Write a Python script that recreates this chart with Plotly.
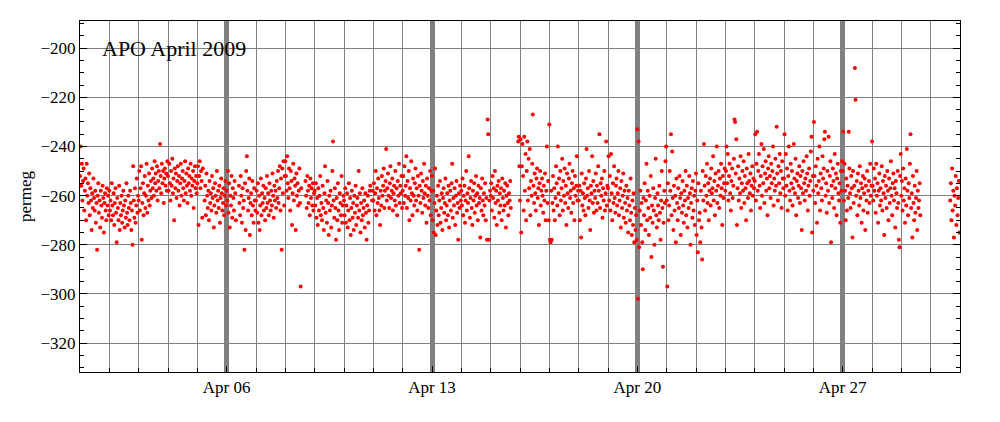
import pandas as pd
import plotly.graph_objects as go

# Atmospheric O2 record, APO (permeg), half-hourly samples per day of April 2009
days = pd.date_range("2009-04-01", "2009-04-30", freq="D")

apr01 = [-252, -240, -256, -247, -262, -254, -249, -266, -258, -253, -270, -247,
         -260, -255, -263, -251, -268, -257, -262, -274, -259, -265, -253, -261,
         -266, -258, -271, -263, -282, -260, -255, -267, -262, -273, -258, -264,
         -269, -256, -261, -275, -263, -259, -266, -270, -257, -264, -260, -268]
apr02 = [-258, -266, -262, -270, -255, -264, -268, -259, -272, -263, -257, -267,
         -279, -261, -265, -270, -256, -274, -263, -268, -260, -271, -266, -258,
         -264, -273, -262, -269, -255, -267, -272, -260, -265, -270, -258, -263,
         -274, -266, -280, -248, -262, -269, -257, -271, -264, -253, -267, -260]
apr03 = [-262, -250, -266, -257, -248, -278, -263, -255, -268, -259, -252, -265,
         -260, -247, -267, -256, -262, -251, -264, -258, -254, -261, -249, -257,
         -253, -260, -246, -255, -251, -258, -248, -262, -254, -250, -257, -239,
         -252, -259, -247, -255, -250, -263, -253, -249, -256, -251, -258, -246]
apr04 = [-252, -258, -247, -255, -262, -250, -256, -245, -259, -253, -270, -249,
         -257, -251, -261, -254, -248, -258, -252, -264, -255, -247, -260, -253,
         -250, -257, -262, -254, -246, -259, -251, -256, -263, -249, -255, -252,
         -258, -247, -260, -253, -256, -250, -265, -254, -248, -257, -252, -259]
apr05 = [-255, -248, -272, -252, -246, -257, -250, -254, -269, -249, None, None,
         -262, -256, -268, -251, -260, -265, -258, -270, -254, -263, -259, -266,
         -252, -261, -257, -273, -264, -255, -260, -267, -250, -262, -258, -265,
         -256, -271, -261, -253, -259, -266, -263, -257, -268, -260, -254, -264]
apr06 = [-258, -262, -250, -267, -255, -273, -260, -264, -252, -269, -257, -261,
         -266, -254, -259, -270, None, None, None, None, -256, -263, -268, -252,
         -260, -271, -257, -265, -262, -282, -255, -274, -250, -244, -258, -266,
         -261, -253, -276, -263, -259, -268, -254, -264, -271, -257, -262, -266]
apr07 = [-262, -258, -267, -255, -271, -260, -274, -264, -253, -268, -259, -263,
         -256, -266, -261, -270, -257, -265, -252, -263, -259, -268, -255, -262,
         -266, -258, -264, -251, -260, -269, -256, -262, -258, -265, -254, -261,
         -250, -263, -257, -248, -266, -253, -282, -249, -259, -246, -264, -252]
apr08 = [-246, -252, -258, -244, -255, -261, -249, -257, -266, -250, -254, -272,
         -259, -247, -262, -253, -256, -274, -251, -260, -255, -264, -258, -249,
         -263, -297, -257, None, None, None, None, None, None, -254, -260, -265,
         -252, -258, -263, -256, -268, -253, -261, -257, -264, -255, -266, -259]
apr09 = [-258, -264, -255, -269, -261, -272, -257, -266, -260, -252, -268, -263,
         -270, -256, -265, -274, -259, -248, -267, -262, -271, -254, -263, -276,
         -260, -266, -258, -273, -264, -250, -238, -262, -269, -257, -265, -278,
         -261, -270, -255, -266, -274, -259, -263, -268, -252, -271, -264, -260]
apr10 = [-262, -268, -257, -271, -264, -259, -273, -266, -255, -270, -261, -276,
         -265, -258, -269, -263, -274, -260, -267, -256, -272, -264, -261, -269,
         -250, -266, -259, -275, -263, -270, -257, -268, -265, -262, -273, -259,
         -267, -278, -264, -260, -271, -266, -258, -256, None, None, -262, -258]
apr11 = [-262, -255, -266, -259, -250, -268, -257, -263, -253, -261, -266, -272,
         -258, -264, -252, -260, -256, -249, -265, -258, -254, -241, -262, -257,
         -251, -260, -265, -255, -248, -261, -258, -253, -266, -259, -256, -262,
         -250, -264, -257, -268, -254, -260, -247, -263, -256, -259, -252, -265]
apr12 = [-258, -252, -263, -248, -260, -256, -244, -265, -254, -261, -250, -270,
         -257, -262, -246, -259, -268, -253, -260, -264, -255, -249, -262, -257,
         -266, -252, -260, -282, -256, -263, -251, -258, -267, -254, -261, -247,
         -259, -264, -256, -271, -253, -260, -265, -257, -262, -250, -268, -258]
apr13 = [-252, -270, -258, -275, -263, -249, -276, -266, -260, -272, -256, -268,
         -262, -254, -271, -265, -259, -274, -261, -257, -267, -263, -253, -270,
         -264, -259, -268, -256, -273, -262, -258, -266, -255, -247, -269, -261,
         -264, -257, -272, -260, -254, -267, -263, -278, -259, -265, -256, -262]
apr14 = [-258, -264, -253, -268, -260, -256, -271, -262, -250, -266, -259, -263,
         -244, -257, -269, -261, -254, -265, -272, -258, -262, -255, -267, -260,
         -252, -264, -259, -270, -256, -263, -261, -277, -257, -266, -253, -262,
         -268, -259, -264, -255, -270, -261, -278, -229, -235, -278, -262, -258]
apr15 = [-260, -255, -266, -252, -261, -257, -269, -250, -263, -258, -272, -256,
         -262, -254, -267, -259, -264, -257, -270, -253, -261, -266, -258, -264,
         -255, -273, -260, -256, -263, -268, -259, -262, -254, -265, None, None,
         None, None, None, None, None, None, None, None, None, -238, -236, -248]
apr16 = [-262, -237, -275, -248, -239, -252, -266, -236, -258, -243, -270, -250,
         -238, -262, -245, -257, -241, -268, -254, -260, -247, -227, -256, -263,
         -251, -259, -266, -253, -249, -261, -257, -272, -255, -250, -264, -258,
         -253, -260, -267, -256, -262, -251, -270, -258, -240, -263, -254, -270]
apr17 = [-231, -278, -279, -258, -278, -263, -252, -266, -257, -270, -261, -248,
         -255, -264, -240, -259, -253, -268, -250, -262, -257, -245, -266, -254,
         -260, -249, -263, -256, -272, -251, -259, -265, -253, -247, -261, -258,
         -267, -255, -250, -263, -257, -270, -252, -260, -256, -244, -262, -258]
apr18 = [-262, -256, -270, -258, -277, -251, -264, -259, -266, -255, -261, -268,
         -253, -241, -260, -257, -265, -250, -262, -274, -256, -259, -244, -263,
         -254, -267, -258, -261, -251, -266, -256, -263, -248, -258, -235, -265,
         -255, -260, -253, -269, -257, -262, -250, -266, -259, -238, -264, -256]
apr19 = [-257, -244, -262, -252, -266, -243, -259, -270, -255, -263, -248, -261,
         -267, -256, -253, -264, -259, -250, -268, -262, -257, -273, -254, -265,
         -260, -251, -269, -258, -263, -271, -256, -266, -261, -275, -258, -264,
         -270, -253, -267, -276, -262, -272, -259, -279, -265, -274, -268, -278]
apr20 = [-233, -302, -238, -281, -266, -258, -272, -263, -279, -290, -261, -268,
         -255, -274, -262, -247, -270, -258, -265, -276, -260, -269, -252, -285,
         -264, -271, -257, -266, -280, -261, -245, -268, -273, -259, -264, -270,
         -256, -267, -278, -262, -250, -265, -289, -271, -258, -263, -246, -240]
apr21 = [-262, -297, -255, -270, -264, -250, -258, -235, -268, -242, -261, -274,
         -256, -266, -260, -279, -253, -263, -270, -257, -265, -252, -261, -276,
         -259, -267, -254, -264, -271, -258, -262, -250, -268, -256, -273, -261,
         -265, -252, -259, -280, -263, -257, -269, -254, -266, -260, -272, -258]
apr22 = [-251, -276, -262, -283, -255, -270, -267, -279, -258, -273, -286, -250,
         -262, -239, -256, -266, -252, -260, -247, -263, -255, -270, -258, -253,
         -264, -249, -259, -257, -244, -262, -254, -268, -251, -258, -240, -263,
         -256, -250, -265, -253, -260, -247, -257, -272, -252, -261, -255, -249]
apr23 = [-258, -250, -240, -255, -243, -262, -252, -247, -259, -266, -254, -249,
         -261, -256, -245, -229, -230, -251, -237, -272, -257, -248, -262, -253,
         -259, -244, -265, -255, -250, -258, -246, -263, -252, -257, -270, -249,
         -255, -261, -243, -254, -259, -251, -266, -256, -248, -260, -253, -257]
apr24 = [-254, -235, -262, -247, -234, -258, -250, -243, -256, -265, -252, -239,
         -260, -248, -255, -241, -263, -251, -246, -258, -253, -268, -249, -244,
         -257, -252, -261, -247, -255, -250, -240, -264, -253, -258, -245, -256,
         -232, -251, -262, -248, -255, -243, -259, -250, -265, -246, -253, -257]
apr25 = [-253, -235, -260, -243, -256, -249, -266, -252, -240, -258, -262, -247,
         -255, -250, -264, -257, -239, -253, -259, -245, -268, -254, -251, -261,
         -256, -248, -263, -252, -257, -274, -250, -259, -246, -255, -262, -253,
         -258, -244, -251, -266, -256, -249, -260, -254, -242, -236, -275, -252]
apr26 = [-258, -230, -252, -263, -248, -256, -271, -245, -259, -254, -240, -266,
         -251, -257, -262, -244, -253, -249, -237, -234, -260, -255, -267, -250,
         -258, -236, -263, -252, -246, -279, -256, -261, -249, -254, -265, -243,
         -257, -251, -268, -253, -247, -259, -262, -255, -271, -250, -258, -246]
apr27 = [-250, -234, -262, -247, -258, -270, -253, -266, -256, -261, -234, -249,
         -259, -265, -252, -257, -277, -250, -263, -256, -208, -221, -260, -254,
         -268, -251, -258, -264, -248, -261, -255, -271, -257, -252, -266, -259,
         -253, -274, -256, -262, -250, -267, -258, -254, -263, -247, -260, -256]
apr28 = [-238, -256, -262, -249, -258, -253, -267, -247, -260, -255, -271, -258,
         -251, -264, -257, -262, -248, -266, -254, -259, -276, -252, -261, -256,
         -265, -250, -258, -270, -253, -263, -257, -246, -260, -268, -255, -251,
         -262, -257, -273, -254, -259, -265, -250, -263, -278, -281, -252, -243]
apr29 = [-260, -254, -266, -249, -262, -257, -271, -253, -264, -241, -258, -268,
         -255, -261, -247, -235, -265, -259, -277, -252, -263, -270, -256, -267,
         -261, -250, -274, -258, -265, -262, -255, -268, None, None, None, None,
         None, None, None, None, None, None, None, None, None, None, None, None]
apr30 = [None, None, None, None, None, None, None, None, None, None, None, None,
         None, None, None, None, None, None, None, None, None, None, None, None,
         None, None, None, None, None, None, None, None, -262, -255, -270, -249,
         -266, -258, -277, -260, -264, -252, -272, -257, -268, -261, -254, -275]

daily_values = [apr01, apr02, apr03, apr04, apr05, apr06, apr07, apr08, apr09, apr10,
                apr11, apr12, apr13, apr14, apr15, apr16, apr17, apr18, apr19, apr20,
                apr21, apr22, apr23, apr24, apr25, apr26, apr27, apr28, apr29, apr30]

times, values = [], []
for day, vals in zip(days, daily_values):
    stamps = pd.date_range(day, periods=len(vals), freq="30min")
    for t, v in zip(stamps, vals):
        if v is not None:
            times.append(t)
            values.append(v)

SERIF = "Liberation Serif"
GRID = "#808080"

fig = go.Figure()
fig.add_trace(go.Scatter(
    x=times, y=values, mode="markers",
    marker=dict(color="#ff0000", size=4, line=dict(width=0)),
    showlegend=False, hoverinfo="x+y",
))

# page body has an 8px margin: figure is 984x406 so it fits the 1000x422 window
fig.update_layout(
    width=984, height=406,
    margin=dict(l=72, r=32, t=13, b=42),
    paper_bgcolor="white", plot_bgcolor="white",
    font=dict(family=SERIF, size=17, color="black"),
    xaxis=dict(
        type="date", range=["2009-04-01", "2009-05-01"], automargin=False,
        tick0="2009-04-06", dtick=7 * 86400000, tickformat="%b %d",
        showgrid=True, gridcolor=GRID, gridwidth=4.5,
        ticks="inside", ticklen=6, tickcolor="black",
        showline=True, linecolor="black", linewidth=1, mirror=True,
        zeroline=False,
        tickfont=dict(family=SERIF, size=17, color="black"),
        minor=dict(dtick=86400000, tick0="2009-04-01", showgrid=True,
                   gridcolor=GRID, gridwidth=1, ticks="inside", ticklen=4,
                   tickcolor="black"),
    ),
    yaxis=dict(
        range=[-331.8, -188.9], tick0=-200, dtick=20, automargin=False,
        showgrid=True, gridcolor=GRID, gridwidth=1,
        ticks="inside", ticklen=7, tickcolor="black",
        showline=True, linecolor="black", linewidth=1, mirror="allticks",
        zeroline=False,
        tickfont=dict(family=SERIF, size=17, color="black"),
        minor=dict(dtick=5, tick0=-200, ticks="inside", ticklen=4,
                   tickcolor="black", showgrid=False),
        title=dict(text="permeg", font=dict(family=SERIF, size=17, color="black"),
                   standoff=4),
    ),
    shapes=[dict(type="rect", xref="paper", yref="paper",
                 x0=0, x1=0.199, y0=0.857, y1=0.988,
                 fillcolor="white", line=dict(width=0), layer="below")],
    annotations=[dict(text="APO April 2009", xref="paper", yref="paper",
                      x=0.0227, y=0.922, xanchor="left", yanchor="middle",
                      showarrow=False,
                      font=dict(family=SERIF, size=22, color="black"))],
)

fig.write_html("out.html")
